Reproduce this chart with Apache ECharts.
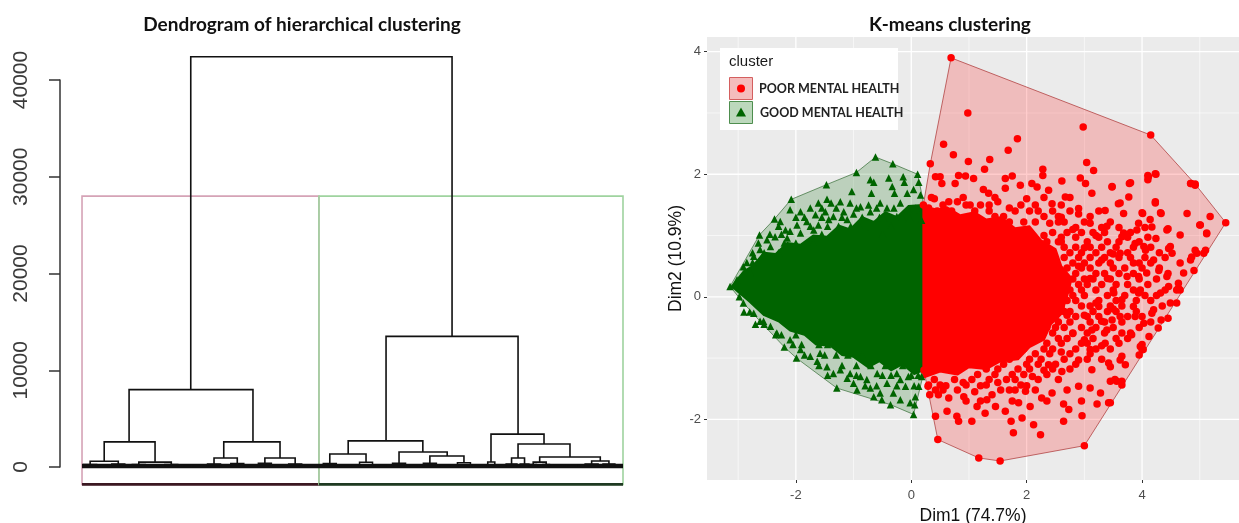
<!DOCTYPE html>
<html><head><meta charset="utf-8">
<script src="https://cdn.jsdelivr.net/npm/echarts@6/dist/echarts.min.js"></script>
<style>html,body{margin:0;padding:0;background:#fff}#c{width:1239px;height:523px}</style>
</head><body><div id="c"></div>
<script>
// ---------------- Dendrogram (left) ----------------
const dendroTicks = [0, 10000, 20000, 30000, 40000];
// merges: [leftX, rightX, mergeHeight, leftChildHeight, rightChildHeight] (x = leaf order, 0..100)
const dendroMerges = [
  [20.1, 68.4, 42400, 8000, 13500],
  [8.7, 31.6, 8000, 2600, 2600],
  [4.1, 13.5, 2600, 600, 500],
  [26.2, 36.6, 2600, 930, 930],
  [1.5, 6.7, 600, 250, 300],
  [10.5, 16.5, 500, 250, 250],
  [24.4, 28.7, 930, 300, 350],
  [33.8, 39.4, 930, 400, 300],
  [56.2, 80.6, 13500, 2700, 3400],
  [49.2, 63.0, 2700, 1340, 1550],
  [45.8, 52.5, 1340, 350, 500],
  [58.6, 67.5, 1550, 400, 1140],
  [64.3, 70.6, 1140, 400, 450],
  [75.6, 85.4, 3400, 520, 2380],
  [75.0, 76.3, 520, 0, 0],
  [80.6, 90.2, 2380, 930, 1030],
  [79.4, 81.8, 930, 300, 300],
  [84.6, 95.8, 1030, 500, 620],
  [83.4, 85.8, 500, 250, 250],
  [94.2, 97.4, 620, 300, 300]
];
// lowest visible merges, legs running down to the leaves
const dendroLowMerges = [
  [0.3, 2.7, 250, 0, 0], [5.5, 7.9, 300, 0, 0], [9.3, 11.7, 250, 0, 0], [15.3, 17.7, 250, 0, 0],
  [23.2, 25.6, 300, 0, 0], [27.5, 29.9, 350, 0, 0], [32.6, 35.0, 400, 0, 0], [38.2, 40.6, 300, 0, 0],
  [44.6, 47.0, 350, 0, 0], [51.3, 53.7, 500, 0, 0], [57.4, 59.8, 400, 0, 0], [63.1, 65.5, 400, 0, 0],
  [69.4, 71.8, 450, 0, 0], [78.4, 80.4, 300, 0, 0], [81.0, 82.6, 300, 0, 0], [82.8, 84.0, 250, 0, 0],
  [85.2, 86.4, 250, 0, 0], [93.0, 95.4, 300, 0, 0], [96.3, 98.5, 300, 0, 0],
  [18.6, 20.2, 200, 0, 0], [20.8, 22.4, 180, 0, 0], [41.2, 42.8, 200, 0, 0], [47.8, 49.6, 220, 0, 0],
  [54.4, 56.2, 200, 0, 0], [60.6, 62.2, 220, 0, 0], [66.2, 68.0, 200, 0, 0], [72.4, 74.2, 220, 0, 0],
  [87.0, 88.8, 200, 0, 0], [89.6, 91.4, 220, 0, 0], [91.8, 92.8, 160, 0, 0], [3.2, 4.6, 180, 0, 0],
  [12.2, 13.6, 160, 0, 0]
];
// band of leaves [fromX, toX, height]
const dendroLeafBand = [[0, 100, 0]];
// rect.hclust boxes: [leftX, rightX, bottom, top]
const clusterBoxes = [[0, 43.8, -1800, 28000], [43.8, 100, -1800, 28000]];

// ---------------- K-means (right) ----------------
const kmTicks = [-2, 0, 2, 4];
const kmMinorX = [-3, -1, 1, 3, 5];
const kmMinorY = [-1, 1, 3];
const goodHull = [[-0.62,2.28],[-0.32,2.17],[0.11,2.00],[0.2,1.6],[0.2,-1.3],[0.04,-1.92],[-0.36,-1.76],[-1.29,-1.49],[-1.99,-1.00],[-2.20,-0.82],[-2.62,-0.40],[-2.91,-0.10],[-3.14,0.17],[-2.63,1.01],[-2.37,1.27],[-2.08,1.59],[-1.47,1.83],[-0.95,2.03]];
const poorHull = [[0.69,3.90],[4.15,2.64],[4.92,1.84],[5.45,1.21],[3.00,-2.43],[1.54,-2.68],[1.17,-2.63],[0.46,-2.33],[0.22,-1.2],[0.21,1.5],[0.33,2.17]];
// saturated (fully overplotted) areas of each cluster
const goodCore = [[-3.11,0.17],[-2.9,0.42],[-2.75,0.5],[-2.55,0.72],[-2.35,0.7],[-2.15,0.88],[-1.92,0.85],[-1.7,1.0],[-1.46,0.98],[-1.25,1.16],[-1.06,1.1],[-0.85,1.3],[-0.65,1.22],[-0.45,1.38],[-0.25,1.3],[-0.05,1.48],[0.2,1.5],[0.2,-1.2],[0.05,-1.26],[-0.15,-1.1],[-0.35,-1.2],[-0.55,-1.05],[-0.75,-1.15],[-1.0,-0.98],[-1.2,-0.95],[-1.4,-0.8],[-1.65,-0.78],[-1.85,-0.62],[-2.1,-0.55],[-2.3,-0.4],[-2.55,-0.3],[-2.8,-0.08]];
const poorCore = [[0.21,1.48],[0.45,1.42],[0.62,1.46],[0.85,1.33],[1.1,1.38],[1.3,1.26],[1.55,1.3],[1.8,1.12],[2.05,1.15],[2.25,0.92],[2.5,0.78],[2.6,0.5],[2.78,0.3],[2.7,0.0],[2.6,-0.28],[2.42,-0.45],[2.3,-0.7],[2.05,-0.82],[1.85,-1.02],[1.55,-1.05],[1.3,-1.18],[1.0,-1.15],[0.8,-1.27],[0.5,-1.22],[0.21,-1.32]];
const goodPoints = [
[-0.62,2.28],[-0.32,2.17],[0.11,2.00],[-0.95,2.03],[-1.47,1.83],[-2.08,1.59],[-2.37,1.27],[-2.63,1.01],[-3.14,0.17],[-2.91,-0.10],[-2.62,-0.40],[-2.20,-0.82],[-1.99,-1.00],[-1.29,-1.49],[-0.36,-1.76],[0.04,-1.92],
[-0.71,1.91],[-0.65,1.87],[-0.39,1.94],[-0.14,1.96],[-0.12,1.87],[0.13,1.87],[-1.03,1.72],[-0.69,1.69],[-0.33,1.80],[-0.29,1.69],[-0.07,1.69],[0.04,1.75],[0.16,1.66],
[-1.46,1.59],[-1.61,1.53],[-1.39,1.53],[-1.23,1.55],[-1.06,1.53],[-0.88,1.47],[-0.74,1.50],[-0.54,1.53],[-0.42,1.45],[-0.19,1.53],[-0.05,1.42],
[-2.10,1.42],[-1.92,1.39],[-1.75,1.45],[-1.66,1.34],[-1.49,1.39],[-1.35,1.31],[-1.17,1.39],[-1.00,1.35],
[-2.27,1.23],[-2.18,1.09],[-1.98,1.17],[-1.81,1.23],[-1.61,1.17],[-1.43,1.26],[-1.26,1.15],[-1.11,1.26],[-0.71,1.39],[-0.48,1.28],[-0.25,1.31],[-0.02,1.28],
[-2.50,0.93],[-2.36,0.98],[-2.15,0.96],[-2.62,0.77],[-2.44,0.82],[-2.91,0.49],[-2.73,0.66],[-3.02,0.28],[-2.79,0.39],[-1.92,1.04],[-1.69,1.09],[-2.10,1.07],
[-1.92,-0.86],[-1.75,-0.97],[-1.63,-1.05],[-1.46,-1.14],[-1.35,-1.25],[-1.23,-1.19],[-1.06,-1.25],[-1.00,-1.41],[-0.94,-1.52],[-0.77,-1.35],[-0.71,-1.49],[-0.59,-1.25],[-0.54,-1.57],[-0.42,-1.41],[-0.31,-1.57],[-0.19,-1.68],[-0.10,-1.46],[-0.02,-1.73],[0.07,-1.63],[-0.05,-1.30],[-0.25,-1.25],[-1.11,-1.33],[-1.58,-0.92],[-0.88,-1.30],
[-2.10,-0.70],[-2.33,-0.59],[-2.44,-0.48],[-2.56,-0.40],[-2.73,-0.27],[-2.98,0.00],[-0.65,-1.63],[-0.51,-1.68],[-0.19,-1.35],[0.06,-1.76],[0.13,-1.46],[0.18,1.25],[0.18,-1.3],
[-1.55,1.45],[-1.3,1.45],[-0.95,1.45],[-0.6,1.45],[-0.3,1.45],[0.08,1.45],
[-2.0,1.30],[-1.85,1.30],[-1.55,1.30],[-1.2,1.30],[-0.85,1.30],[-0.55,1.30],[-0.15,1.30],[0.1,1.30],
[-2.3,1.15],[-1.75,1.15],[-1.45,1.15],[-1.05,1.15],[-0.9,1.15],[-0.35,1.15],[-0.1,1.15],
[-2.45,1.02],[-2.25,1.02],[-1.55,1.02],[-1.3,1.02],[-0.75,1.02],[-0.5,1.02],
[-2.65,0.88],[-2.2,0.88],[-2.0,0.88],[-1.7,0.88],
[-2.75,0.72],[-2.55,0.72],[-2.3,0.72],[-2.85,0.56],[-2.75,0.56],
[-2.9,-0.25],[-2.8,-0.25],[-2.7,-0.45],[-2.55,-0.45],
[-2.35,-0.62],[-2.25,-0.62],[-2.0,-0.62],
[-2.05,-0.78],[-1.9,-0.78],[-1.6,-0.78],[-1.45,-0.78],
[-1.85,-0.95],[-1.5,-0.95],[-1.3,-0.95],[-1.1,-0.95],[-0.85,-0.95],
[-1.6,-1.12],[-1.2,-1.12],[-0.95,-1.12],[-0.7,-1.12],[-0.45,-1.12],[-0.15,-1.12],
[-1.45,-1.28],[-0.95,-1.28],[-0.5,-1.28],[-0.35,-1.28],[0.0,-1.28],[0.12,-1.28],
[-0.8,-1.45],[-0.6,-1.45],[-0.25,-1.45],[0.05,-1.45]
];
const poorPoints = [
[0.69,3.90],[4.15,2.64],[4.92,1.84],[5.45,1.21],[0.33,2.17],[0.46,-2.33],[1.17,-2.63],[1.54,-2.68],[3.00,-2.43],
[0.98,3.00],[2.98,2.77],[1.84,2.58],[1.68,2.39],[0.56,2.49],[0.73,2.32],[0.99,2.21],[1.36,2.24],[1.27,2.08],[3.04,2.19],[3.16,2.06],[2.28,2.08],[2.28,1.98],[4.10,1.98],[4.24,2.00],[4.10,1.91],[4.85,1.85],[0.42,1.96],[0.50,1.96],[0.82,1.98],[0.94,1.97],[1.08,1.93],[1.63,1.93],[1.75,1.97],[1.89,1.82],[2.09,1.85],[2.61,1.89],[2.93,1.94],[3.02,1.85],[3.48,1.79],[3.78,1.85],[4.23,1.53],[3.77,1.63],[4.01,1.36],[4.33,1.36],[4.78,1.36],[5.18,1.31],[4.66,1.01],[4.45,1.11],[4.24,0.95],[5.00,1.17],[5.12,1.03],[4.92,0.76],[5.10,0.76],[4.86,0.65],[4.90,0.43],[4.46,0.79],[4.52,0.71],[4.06,0.76],[3.68,1.36],[3.59,1.52],[3.36,1.41],[3.13,1.69],[2.67,1.63],[2.38,1.74],[1.34,1.69],[1.25,1.75],[0.65,1.55],[1.02,1.50],[0.53,1.85],[0.76,1.85],[1.63,1.77],[2.18,1.79],[2.44,1.52],[2.90,1.44],[3.94,1.20],[4.17,1.14],[3.65,0.98],[3.88,0.87],[4.29,0.43],[4.63,0.22],[4.66,0.11],[3.94,0.33],
[2.96,-1.94],[2.64,-2.03],[2.24,-2.25],[1.77,-2.22],[2.12,-2.09],[1.92,-1.98],[1.73,-2.03],[1.05,-2.03],[0.82,-2.03],[0.42,-1.95],[0.62,-1.87],[0.79,-1.95],[1.28,-1.90],[1.46,-1.79],[1.63,-1.87],[1.86,-1.73],[2.06,-1.79],[2.73,-1.84],[2.64,-1.75],[3.22,-1.75],[3.42,-1.73],[3.10,-1.49],[3.28,-1.57],[3.45,-1.38],[3.56,-1.38],[3.65,-1.44],[2.90,-1.46],[2.44,-1.57],[2.26,-1.65],[1.98,-1.54],[1.80,-1.52],[1.31,-1.68],[1.14,-1.79],[0.91,-1.63],[0.65,-1.65],[0.47,-1.60],[0.42,-1.52],[0.32,-1.60],[0.29,-1.46],[3.13,-1.19],[3.42,-1.08],[3.71,-1.11],[3.65,-0.97],[3.95,-0.95],[4.02,-0.86],[4.00,-0.78],[3.82,-0.62],[4.12,-0.65],[4.28,-0.51],[4.45,-0.35],[4.60,-0.10],[4.63,0.14],[4.46,0.17],[4.17,-0.27],[3.88,-0.32],[3.48,-0.38],[3.36,-0.76],[3.10,-0.86],[2.90,-1.03],[2.61,-1.22],[2.38,-1.11],[3.13,-0.54],[3.65,-0.05],[3.94,0.06],[3.25,-0.16],
[4.11,1.96],[4.23,2.01],[4.84,1.85],[4.92,1.82],[3.48,1.80],[3.80,1.86],[3.62,1.53],[4.23,1.55],[4.00,1.37],[4.32,1.37],[4.43,1.09],[5.01,1.17],[5.12,1.04],[4.14,1.26],[3.91,1.09],[3.68,1.04],[3.39,1.15],[4.03,0.82],[4.49,0.82],[4.95,0.71],[5.07,0.71],[4.84,0.60],[4.66,0.55],[4.20,0.60],[3.85,0.55],[3.62,0.71],[3.74,0.33],[4.08,0.39],[4.43,0.33],[4.72,0.39],[4.60,0.11],[4.32,0.06],[3.97,0.11],[3.51,0.06],[3.85,-0.16],[4.20,-0.21],[4.49,-0.10],[3.62,-0.32],[4.03,-0.43],[4.33,-0.38],[3.39,-0.54],[3.80,-0.59],[4.00,-0.86],[3.97,-0.81],[3.62,-1.03],[3.45,-1.14],[3.53,-1.35],[3.65,-1.38],[3.45,-1.73],
[2.3,1.0],[2.6,0.9],[2.8,1.1],[3.0,0.8],[3.2,1.0],[3.3,0.6],[3.1,0.3],[2.9,0.5],[2.7,0.2],[3.2,-0.1],[3.0,-0.3],[2.8,-0.6],[2.6,-0.9],[3.0,-0.7],[2.5,-0.5],[2.7,-0.3],[3.3,-0.4],[3.4,0.3],[3.5,0.7],[3.5,-0.2],[3.3,-0.8],[2.4,1.2],[2.2,1.4],[1.9,1.5],[2.6,1.3],[2.9,1.35],[3.1,1.2],[0.4,1.6],[0.8,1.55],[1.2,1.5],[1.5,1.55],[1.7,1.45],[2.0,1.6],[0.3,1.45],[0.6,-1.45],[0.9,-1.4],[1.2,-1.45],[1.5,-1.4],[1.8,-1.35],[2.1,-1.3],[2.3,-1.2],[2.0,-1.45],[1.4,-1.6],[1.1,-1.55],[0.22,-1.2],[0.21,1.5],
[0.35,1.62],[0.9,1.62],[1.45,1.62],[2.3,1.62],[2.75,1.62],
[0.45,1.40],[0.7,1.40],[1.1,1.40],[1.35,1.40],[1.8,1.40],[2.05,1.40],[2.45,1.40],[2.75,1.40],[3.25,1.40],
[1.25,1.22],[1.7,1.22],[1.95,1.22],[2.15,1.22],[2.55,1.22],[2.65,1.22],[3.0,1.22],[3.45,1.22],
[2.45,1.05],[2.7,1.05],[2.95,1.05],[3.15,1.05],[3.35,1.05],[3.8,1.05],
[2.35,0.90],[2.55,0.90],[3.05,0.90],[3.4,0.90],[3.6,0.90],[3.95,0.90],
[2.75,0.72],[2.95,0.72],[3.2,0.72],[3.45,0.72],[3.75,0.72],[4.3,0.72],
[2.8,0.55],[3.0,0.55],[3.25,0.55],[3.45,0.55],[3.95,0.55],[4.15,0.55],
[2.85,0.38],[3.2,0.38],[3.35,0.38],[3.6,0.38],[3.85,0.38],[4.45,0.38],
[2.9,0.20],[3.05,0.20],[3.3,0.20],[3.55,0.20],[3.75,0.20],[4.1,0.20],
[2.8,0.02],[3.0,0.02],[3.4,0.02],[3.7,0.02],[4.05,0.02],[4.25,0.02],
[2.6,-0.15],[2.95,-0.15],[3.1,-0.15],[3.45,-0.15],[3.65,-0.15],[4.35,-0.15],
[2.5,-0.32],[2.85,-0.32],[3.05,-0.32],[3.25,-0.32],[3.75,-0.32],[4.0,-0.32],
[2.35,-0.50],[2.65,-0.50],[2.95,-0.50],[3.2,-0.50],[3.5,-0.50],[3.95,-0.50],
[2.2,-0.68],[2.55,-0.68],[2.7,-0.68],[3.15,-0.68],[3.55,-0.68],[3.75,-0.68],
[1.95,-0.85],[2.3,-0.85],[2.45,-0.85],[2.85,-0.85],[3.2,-0.85],[3.45,-0.85],
[1.7,-1.02],[2.05,-1.02],[2.25,-1.02],[2.65,-1.02],[3.05,-1.02],[3.3,-1.02],
[1.3,-1.18],[1.5,-1.18],[1.85,-1.18],[2.05,-1.18],[2.45,-1.18],[2.75,-1.18],
[0.4,-1.35],[0.75,-1.35],[1.05,-1.35],[1.35,-1.35],[1.65,-1.35],[2.2,-1.35],[2.55,-1.35],
[0.55,-1.52],[0.8,-1.52],[1.55,-1.52],[1.7,-1.52],[2.15,-1.52],[2.7,-1.52],
[0.95,-1.70],[1.2,-1.70],[1.75,-1.70],[2.35,-1.70],[2.95,-1.70],
[2.85,1.13],[3.3,1.13],[3.6,1.13],[4.05,1.13],
[2.6,0.97],[2.85,0.97],[3.25,0.97],[3.75,0.97],[4.1,0.97],
[2.65,0.81],[2.85,0.81],[3.1,0.81],[3.3,0.81],[3.55,0.81],[3.85,0.81],[4.15,0.81],
[2.65,0.64],[2.9,0.64],[3.1,0.64],[3.35,0.64],[3.6,0.64],[3.8,0.64],[4.05,0.64],[4.4,0.64],
[2.7,0.47],[2.95,0.47],[3.1,0.47],[3.5,0.47],[3.7,0.47],[4.0,0.47],[4.3,0.47],
[2.8,0.29],[3.0,0.29],[3.15,0.29],[3.45,0.29],[3.95,0.29],[4.25,0.29],
[2.75,0.11],[2.95,0.11],[3.2,0.11],[3.5,0.11],[3.85,0.11],[4.4,0.11],
[2.7,-0.06],[2.85,-0.06],[3.25,-0.06],[3.55,-0.06],[3.9,-0.06],[4.15,-0.06],
[2.65,-0.24],[2.75,-0.24],[3.15,-0.24],[3.4,-0.24],[3.55,-0.24],[3.9,-0.24],
[2.55,-0.41],[2.75,-0.41],[3.1,-0.41],[3.35,-0.41],[3.65,-0.41],[4.15,-0.41],
[2.45,-0.59],[2.8,-0.59],[3.05,-0.59],[3.35,-0.59],[3.65,-0.59],
[2.35,-0.76],[2.6,-0.76],[2.95,-0.76],[3.05,-0.76],[3.6,-0.76],
[2.15,-0.93],[2.4,-0.93],[2.75,-0.93],[3.1,-0.93],
[1.6,-1.10],[2.0,-1.10],[2.2,-1.10],[2.5,-1.10],[2.85,-1.10],
[1.15,-1.27],[1.45,-1.27],[1.75,-1.27],[1.95,-1.27],[2.35,-1.27],
[0.3,-1.44],[0.5,-1.44],[0.95,-1.44],[1.3,-1.44],[1.9,-1.44],
[1.45,1.31],[1.6,1.31],[2.3,1.31],[2.55,1.31],[3.1,1.31],
[0.55,1.50],[0.95,1.50],[1.35,1.50],[2.15,1.50],[2.6,1.50]
];

// ---------------- rendering ----------------
const chart = echarts.init(document.getElementById('c'), null, {renderer: 'canvas'});

function mergeRenderer(width) {
  return function (params, api) {
    const xl = api.value(0), xr = api.value(1), h = api.value(2), hl = api.value(3), hr = api.value(4);
    return {
      type: 'polyline',
      shape: {points: [api.coord([xl, hl]), api.coord([xl, h]), api.coord([xr, h]), api.coord([xr, hr])]},
      style: {stroke: '#111', lineWidth: width, fill: null}
    };
  };
}
const boxStroke = ['#D5A3B6', '#9FD39F'];
const boxBottom = ['#3B1822', '#1F3A22'];
function boxRenderer(params, api) {
  const xl = api.value(0), xr = api.value(1), yb = api.value(2), yt = api.value(3);
  const a = api.coord([xl, yt]), b = api.coord([xr, yb]);
  return {
    type: 'group',
    children: [
      {type: 'rect', shape: {x: a[0], y: a[1], width: b[0] - a[0], height: b[1] - a[1]},
       style: {fill: null, stroke: boxStroke[params.dataIndex], lineWidth: 1.6}},
      {type: 'line', shape: {x1: a[0], y1: b[1], x2: b[0], y2: b[1]},
       style: {stroke: boxBottom[params.dataIndex], lineWidth: 2.6}}
    ]
  };
}
function bandRenderer(params, api) {
  const a = api.coord([api.value(0), api.value(2)]), b = api.coord([api.value(1), api.value(2)]);
  return {type: 'line', shape: {x1: a[0], y1: a[1] - 1, x2: b[0], y2: b[1] - 1}, style: {stroke: '#111', lineWidth: 4.5}};
}
function gridRenderer(params, api) {
  const v = api.value(0), dir = api.value(1), major = api.value(2);
  const cs = params.coordSys;
  let shape;
  if (dir === 0) { const x = api.coord([v, 0])[0]; shape = {x1: x, y1: cs.y, x2: x, y2: cs.y + cs.height}; }
  else { const y = api.coord([0, v])[1]; shape = {x1: cs.x, y1: y, x2: cs.x + cs.width, y2: y}; }
  return {type: 'line', shape: shape, style: {stroke: '#FFFFFF', lineWidth: major ? 1.3 : 0.6}};
}
function polyRenderer(points, style) {
  return function (params, api) {
    if (params.dataIndex !== 0) return null;
    return {type: 'polygon', shape: {points: points.map(p => api.coord(p))}, style: style};
  };
}
const gridData = []
  .concat(kmTicks.map(v => [v, 0, 1]), kmMinorX.map(v => [v, 0, 0]))
  .concat(kmTicks.map(v => [v, 1, 1]), kmMinorY.map(v => [v, 1, 0]));

const titleStyle = {fontFamily: 'Lato', fontWeight: 'bold', fontSize: 19, color: '#111'};
const Z = 100;
const option = {
  animation: false,
  title: [
    {text: 'Dendrogram of hierarchical clustering', left: 297, top: 10, textAlign: 'center', textStyle: titleStyle},
    {text: 'K-means clustering', left: 945, top: 10, textAlign: 'center', textStyle: titleStyle}
  ],
  grid: [
    {left: 60, right: 616, top: 80, bottom: 56, outerBoundsMode: 'none', containLabel: false},
    {left: 707, right: 0, top: 37, bottom: 43, show: true, backgroundColor: '#EBEBEB', borderWidth: 0, outerBoundsMode: 'none', containLabel: false}
  ],
  xAxis: [
    {gridIndex: 0, type: 'value', min: -4.07, max: 100, show: false, axisLine: {onZero: false}},
    {gridIndex: 1, type: 'value', min: -3.54, max: 5.68,
     axisLine: {show: false, onZero: false},
     axisTick: {show: true, customValues: kmTicks, length: 3, lineStyle: {color: '#333'}},
     axisLabel: {customValues: kmTicks, color: '#4D4D4D', fontSize: 13, margin: 9, fontFamily: 'Liberation Sans'},
     splitLine: {show: false},
     name: 'Dim1 (74.7%)', nameLocation: 'middle', nameGap: 27,
     nameTextStyle: {fontSize: 17.5, color: '#111', fontFamily: 'Liberation Sans'}}
  ],
  yAxis: [
    {gridIndex: 0, type: 'value', min: dendroTicks[0], max: dendroTicks[dendroTicks.length - 1], interval: 10000,
     axisLine: {show: true, onZero: false, lineStyle: {color: '#333', width: 1.5}},
     axisTick: {show: true, length: 11, lineStyle: {color: '#333', width: 1.5}},
     axisLabel: {rotate: 90, fontSize: 21, color: '#3a3a3a', margin: 28, fontFamily: 'Liberation Sans',
                 formatter: v => String(v)},
     splitLine: {show: false}},
    {gridIndex: 1, type: 'value', min: -2.99, max: 4.24,
     axisLine: {show: false, onZero: false},
     axisTick: {show: true, customValues: kmTicks, length: 3, lineStyle: {color: '#333'}},
     axisLabel: {customValues: kmTicks, color: '#4D4D4D', fontSize: 13, margin: 6, fontFamily: 'Liberation Sans'},
     splitLine: {show: false},
     name: 'Dim2 (10.9%)', nameLocation: 'middle', nameGap: 20,
     nameTextStyle: {fontSize: 17.5, color: '#111', fontFamily: 'Liberation Sans'}}
  ],
  series: [
    {type: 'custom', xAxisIndex: 0, yAxisIndex: 0, clip: false, silent: true, z: 1,
     data: clusterBoxes, renderItem: boxRenderer},
    {type: 'custom', xAxisIndex: 0, yAxisIndex: 0, clip: false, silent: true, z: 2,
     data: dendroLeafBand, renderItem: bandRenderer},
    {type: 'custom', xAxisIndex: 0, yAxisIndex: 0, clip: false, silent: true, z: 3,
     data: dendroLowMerges, renderItem: mergeRenderer(1.5)},
    {type: 'custom', xAxisIndex: 0, yAxisIndex: 0, clip: false, silent: true, z: 3,
     data: dendroMerges, renderItem: mergeRenderer(1.6)},

    {type: 'custom', xAxisIndex: 1, yAxisIndex: 1, silent: true, z: 1,
     data: gridData, renderItem: gridRenderer},
    {type: 'custom', xAxisIndex: 1, yAxisIndex: 1, silent: true, z: 2, data: goodHull,
     renderItem: polyRenderer(goodHull, {fill: 'rgba(0,100,0,0.2)', stroke: 'rgba(40,100,40,0.65)', lineWidth: 1})},
    {type: 'custom', xAxisIndex: 1, yAxisIndex: 1, silent: true, z: 2, data: poorHull,
     renderItem: polyRenderer(poorHull, {fill: 'rgba(255,0,0,0.2)', stroke: 'rgba(170,50,50,0.7)', lineWidth: 1})},
    {type: 'custom', xAxisIndex: 1, yAxisIndex: 1, silent: true, z: 3, data: goodCore,
     renderItem: polyRenderer(goodCore, {fill: '#006400', stroke: '#006400', lineWidth: 2, lineJoin: 'round'})},
    {type: 'custom', xAxisIndex: 1, yAxisIndex: 1, silent: true, z: 3, data: poorCore,
     renderItem: polyRenderer(poorCore, {fill: '#FF0000', stroke: '#FF0000', lineWidth: 2, lineJoin: 'round'})},
    {type: 'scatter', name: 'GOOD MENTAL HEALTH', xAxisIndex: 1, yAxisIndex: 1, silent: true, z: 4,
     symbol: 'triangle', symbolSize: 7.5, itemStyle: {color: '#006400', opacity: 1}, data: goodPoints},
    {type: 'scatter', name: 'POOR MENTAL HEALTH', xAxisIndex: 1, yAxisIndex: 1, silent: true, z: 5,
     symbol: 'circle', symbolSize: 7.5, itemStyle: {color: '#FF0000', opacity: 1}, data: poorPoints}
  ],
  graphic: [
    {type: 'rect', z: Z, shape: {x: 720, y: 48, width: 178, height: 82}, style: {fill: '#FFFFFF'}},
    {type: 'text', z: Z + 1, x: 729, y: 62, style: {text: 'cluster', font: '15px "Liberation Sans"', fill: '#1a1a1a', verticalAlign: 'middle'}},
    {type: 'rect', z: Z + 1, shape: {x: 729.5, y: 77.5, width: 23, height: 22}, style: {fill: '#F4BDBD', stroke: '#D45F5F', lineWidth: 1}},
    {type: 'circle', z: Z + 2, shape: {cx: 741, cy: 88.5, r: 4}, style: {fill: '#FF0000'}},
    {type: 'rect', z: Z + 1, shape: {x: 729.5, y: 101.5, width: 23, height: 22}, style: {fill: '#BCD8BC', stroke: '#4E8E4E', lineWidth: 1}},
    {type: 'polygon', z: Z + 2, shape: {points: [[741, 107.5], [746, 116.5], [736, 116.5]]}, style: {fill: '#006400'}},
    {type: 'text', z: Z + 1, x: 759, y: 89, style: {text: 'POOR MENTAL HEALTH', font: 'bold 12.5px Lato', fill: '#222', verticalAlign: 'middle'}},
    {type: 'text', z: Z + 1, x: 760, y: 112.5, style: {text: 'GOOD MENTAL HEALTH', font: 'bold 12.5px Lato', fill: '#222', verticalAlign: 'middle'}}
  ]
};
chart.setOption(option);
</script>
</body></html>
